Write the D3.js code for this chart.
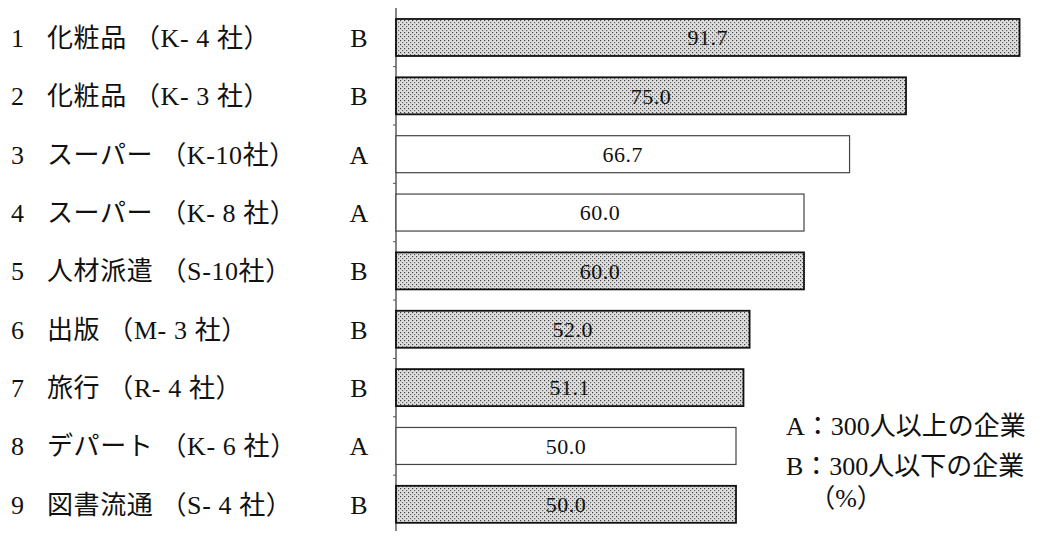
<!DOCTYPE html>
<html>
<head>
<meta charset="utf-8">
<script src="https://cdn.jsdelivr.net/npm/d3@7/dist/d3.min.js"></script>
<style>
  html, body { margin: 0; padding: 0; background: #fff; }
  svg { display: block; }
  .lbl { font-family: "Liberation Serif", "Noto Sans CJK JP", serif; fill: #111; }
</style>
</head>
<body>
<svg id="chart" width="1046" height="543"></svg>
<script>
// Share of companies per industry group (%)
const ranks = [1, 2, 3, 4, 5, 6, 7, 8, 9];
const names = [
  "化粧品 （K- 4 社）",
  "化粧品 （K- 3 社）",
  "スーパー （K-10社）",
  "スーパー （K- 8 社）",
  "人材派遣 （S-10社）",
  "出版 （M- 3 社）",
  "旅行 （R- 4 社）",
  "デパート （K- 6 社）",
  "図書流通 （S- 4 社）"
];
const sizeClass = ["B", "B", "A", "A", "B", "B", "B", "A", "B"];
const values = [91.7, 75.0, 66.7, 60.0, 60.0, 52.0, 51.1, 50.0, 50.0];
const legendLines = ["A：300人以上の企業", "B：300人以下の企業"];
const unitLabel = "（%）";

const rows = ranks.map((r, i) => ({ rank: r, name: names[i], cls: sizeClass[i], value: values[i] }));

const svg = d3.select("#chart");

// dotted halftone fill for class B bars
const defs = svg.append("defs");
const pat = defs.append("pattern")
  .attr("id", "dots")
  .attr("patternUnits", "userSpaceOnUse")
  .attr("width", 4).attr("height", 4);
pat.append("rect").attr("width", 4).attr("height", 4).attr("fill", "#dedede");
pat.append("rect").attr("x", 0).attr("y", 0).attr("width", 1.2).attr("height", 1.2).attr("fill", "#444");
pat.append("rect").attr("x", 2).attr("y", 2).attr("width", 1.2).attr("height", 1.2).attr("fill", "#666");

const x = d3.scaleLinear().domain([0, 100]).range([396, 1076]);
const y = d3.scaleBand()
  .domain(ranks)
  .range([8.3, 533.5])
  .paddingInner(0.366)
  .paddingOuter(0.183);

// vertical baseline with small ticks between rows
const axisX = x(0);
svg.append("line")
  .attr("x1", axisX).attr("x2", axisX)
  .attr("y1", 8).attr("y2", 531)
  .attr("stroke", "#333").attr("stroke-width", 1.2);

const gap = y.step() - y.bandwidth();
svg.append("g").selectAll("line")
  .data(ranks.slice(0, -1))
  .join("line")
  .attr("x1", axisX - 3).attr("x2", axisX)
  .attr("y1", d => y(d) + y.bandwidth() + gap / 2)
  .attr("y2", d => y(d) + y.bandwidth() + gap / 2)
  .attr("stroke", "#555").attr("stroke-width", 1);

// bars
const bars = svg.append("g").selectAll("g")
  .data(rows)
  .join("g");

bars.append("rect")
  .attr("x", axisX)
  .attr("y", d => y(d.rank))
  .attr("width", d => x(d.value) - axisX)
  .attr("height", y.bandwidth())
  .attr("fill", d => d.cls === "B" ? "url(#dots)" : "#fff")
  .attr("stroke", d => d.cls === "B" ? "#111" : "#444")
  .attr("stroke-width", d => d.cls === "B" ? 1.8 : 1.2);

// value labels centred inside each bar
bars.append("text")
  .attr("class", "lbl")
  .attr("x", d => (axisX + x(d.value)) / 2)
  .attr("y", d => y(d.rank) + y.bandwidth() / 2)
  .attr("dy", "0.35em")
  .attr("text-anchor", "middle")
  .attr("font-size", 22)
  .attr("letter-spacing", 0.5)
  .text(d => d.value.toFixed(1));

// row labels
const rowLabels = svg.append("g").selectAll("g")
  .data(rows)
  .join("g")
  .attr("transform", d => `translate(0,${y(d.rank) + y.bandwidth() / 2})`);

rowLabels.append("text")
  .attr("class", "lbl")
  .attr("x", 11).attr("dy", "0.36em")
  .attr("font-size", 26)
  .text(d => d.rank);

rowLabels.append("text")
  .attr("class", "lbl")
  .attr("x", 47).attr("dy", "0.36em")
  .attr("font-size", 26)
  .attr("letter-spacing", 0.6)
  .text(d => d.name);

rowLabels.append("text")
  .attr("class", "lbl")
  .attr("x", 359).attr("dy", "0.36em")
  .attr("text-anchor", "middle")
  .attr("font-size", 26)
  .text(d => d.cls);

// legend
const legend = svg.append("g");
legend.selectAll("text.leg")
  .data(legendLines)
  .join("text")
  .attr("class", "lbl leg")
  .attr("x", 786)
  .attr("y", (d, i) => 426 + i * 40)
  .attr("dy", "0.36em")
  .attr("font-size", 26)
  .text(d => d);

legend.append("text")
  .attr("class", "lbl")
  .attr("x", 846)
  .attr("y", 498)
  .attr("dy", "0.36em")
  .attr("text-anchor", "middle")
  .attr("font-size", 26)
  .text(unitLabel);
</script>
</body>
</html>
